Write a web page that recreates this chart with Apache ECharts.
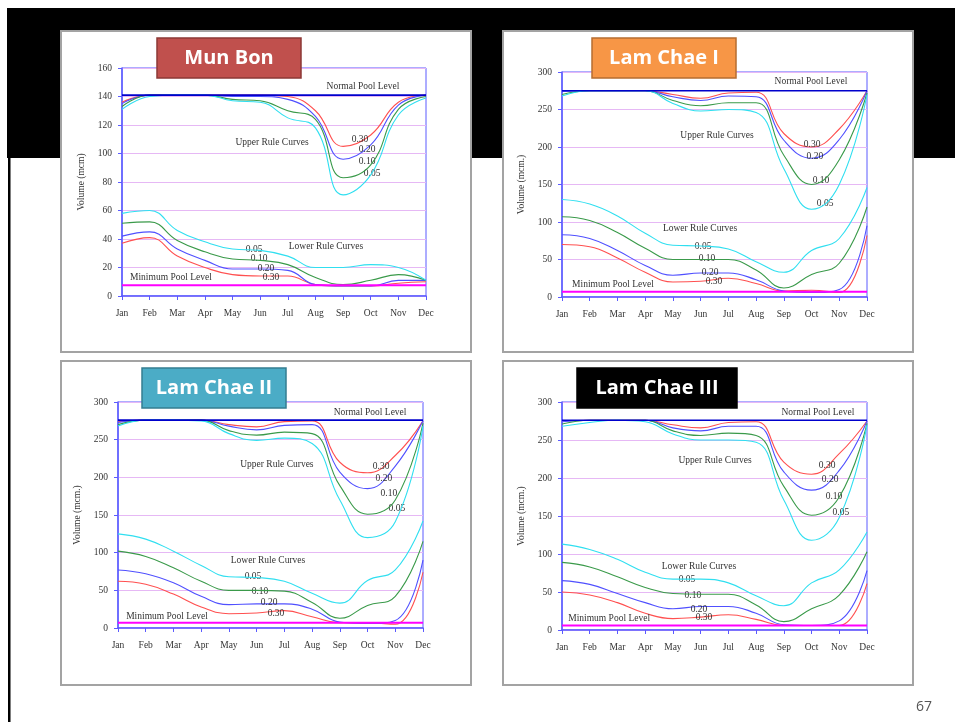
<!DOCTYPE html>
<html>
<head>
<meta charset="utf-8">
<title>Rule curves</title>
<script src="https://cdn.jsdelivr.net/npm/echarts@6/dist/echarts.min.js"></script>
<style>
  html, body { margin: 0; padding: 0; background: #fff; }
  #chart { width: 955px; height: 722px; }
</style>
</head>
<body>
<div id="chart"></div>
<script>
// Month tick labels (x = 0 .. 11)
const months = ['Jan', 'Feb', 'Mar', 'Apr', 'May', 'Jun', 'Jul', 'Aug', 'Sep', 'Oct', 'Nov', 'Dec'];
const probabilities = ['0.30', '0.20', '0.10', '0.05'];

// Mun Bon (mcm)
const munBonUpper030 = [136, 141, 141, 141, 141, 141, 140, 130, 105, 113, 136, 141];
const munBonUpper020 = [135, 141, 141, 141, 140, 140, 138, 126, 96, 106, 134, 141];
const munBonUpper010 = [133, 141, 141, 141, 138, 137, 130, 124, 83, 92, 131, 140];
const munBonUpper005 = [131, 140, 141, 141, 137, 136, 125, 118, 71, 85, 127, 139];
const munBonLower005 = [58, 60, 46, 38, 33, 32, 28, 20, 20, 22, 20, 11];
const munBonLower010 = [51, 52, 39, 31, 26, 25, 22, 13, 8, 11, 15, 11];
const munBonLower020 = [42, 45, 33, 25, 19, 19, 18, 8, 7, 7, 11, 11];
const munBonLower030 = [37, 41, 28, 20, 15, 14, 14, 8, 7, 7, 9, 10];
const munBonNormalPool = 141;
const munBonMinPool = 7.5;

// Lam Chae I (mcm)
const lamChae1Upper030 = [275, 275, 275, 275, 270, 265, 272, 273, 218, 200, 224, 275];
const lamChae1Upper020 = [274, 275, 275, 275, 267, 262, 268, 267, 209, 185, 210, 275];
const lamChae1Upper010 = [270, 275, 275, 275, 262, 255, 259, 259, 189, 150, 183, 272];
const lamChae1Upper005 = [268, 275, 275, 275, 258, 248, 250, 246, 171, 117, 150, 270];
const lamChae1Lower005 = [130, 124, 108, 85, 69, 68, 64, 47, 33, 62, 78, 146];
const lamChae1Lower010 = [107, 102, 86, 65, 50, 50, 50, 36, 12, 30, 45, 120];
const lamChae1Lower020 = [83, 78, 62, 42, 29, 32, 32, 23, 8, 6, 10, 95];
const lamChae1Lower030 = [70, 67, 52, 33, 20, 21, 25, 18, 8, 9, 6, 82];
const lamChae1NormalPool = 275;
const lamChae1MinPool = 7;

// Lam Chae II (mcm)
const lamChae2Upper030 = [274, 276, 276, 276, 270, 267, 274, 275, 220, 206, 229, 275];
const lamChae2Upper020 = [273, 276, 276, 276, 268, 263, 269, 270, 207, 185, 215, 275];
const lamChae2Upper010 = [270, 276, 276, 276, 262, 256, 260, 258, 189, 151, 170, 272];
const lamChae2Upper005 = [268, 276, 276, 275, 258, 249, 252, 245, 170, 120, 141, 268];
const lamChae2Lower005 = [125, 118, 102, 83, 68, 67, 62, 46, 33, 63, 77, 142];
const lamChae2Lower010 = [102, 95, 80, 62, 50, 50, 49, 34, 13, 30, 42, 115];
const lamChae2Lower020 = [77, 72, 60, 42, 31, 32, 32, 25, 8, 6, 10, 90];
const lamChae2Lower030 = [62, 58, 45, 28, 19, 20, 23, 15, 7, 7, 5, 74];
const lamChae2NormalPool = 276;
const lamChae2MinPool = 7;

// Lam Chae III (mcm)
const lamChae3Upper030 = [275, 276, 276, 276, 270, 266, 273, 274, 221, 205, 232, 275];
const lamChae3Upper020 = [274, 276, 276, 276, 266, 262, 268, 268, 208, 184, 210, 275];
const lamChae3Upper010 = [271, 276, 276, 276, 262, 256, 259, 256, 189, 151, 175, 272];
const lamChae3Upper005 = [268, 273, 276, 274, 258, 250, 250, 247, 171, 118, 148, 270];
const lamChae3Lower005 = [113, 106, 93, 76, 67, 67, 62, 45, 32, 62, 79, 129];
const lamChae3Lower010 = [89, 83, 70, 56, 48, 47, 47, 33, 11, 28, 46, 103];
const lamChae3Lower020 = [65, 60, 48, 36, 28, 31, 31, 22, 7, 6, 12, 78];
const lamChae3Lower030 = [50, 46, 36, 22, 15, 17, 20, 14, 6, 6, 6, 61];
const lamChae3NormalPool = 276;
const lamChae3MinPool = 6;

const curveColors = ['#ff5050', '#5050ff', '#3a9a4a', '#30dff0'];
const serif = '"Liberation Serif", "DejaVu Serif", serif';

// One entry per reservoir chart
const panels = [
  {
    title: 'Mun Bon', titleFill: '#c0504d', titleStroke: '#8c3836',
    box: [61, 31, 410, 321], titleBox: [157, 38, 144, 40],
    grid: { left: 122, top: 68, width: 304, height: 228 },
    yMax: 160, yStep: 20, yName: 'Volume (mcm)',
    upper: [munBonUpper030, munBonUpper020, munBonUpper010, munBonUpper005],
    lower: [munBonLower030, munBonLower020, munBonLower010, munBonLower005],
    normal: munBonNormalPool, min: munBonMinPool,
    notes: {
      normal: [8.72, 147], upperTitle: [5.43, 107.4], lowerTitle: [7.38, 34.4], minTitle: [1.77, 13.3],
      upper: [[8.61, 110], [8.87, 102.5], [8.87, 94.7], [9.05, 86.3]],
      lower: [[5.39, 13.3], [5.21, 19.6], [4.96, 26], [4.78, 32.3]]
    }
  },
  {
    title: 'Lam Chae I', titleFill: '#f79646', titleStroke: '#b66d31',
    box: [503, 31, 410, 321], titleBox: [592, 38, 144, 40],
    grid: { left: 562, top: 72, width: 305, height: 225 },
    yMax: 300, yStep: 50, yName: 'Volume (mcm.)',
    upper: [lamChae1Upper030, lamChae1Upper020, lamChae1Upper010, lamChae1Upper005],
    lower: [lamChae1Lower030, lamChae1Lower020, lamChae1Lower010, lamChae1Lower005],
    normal: lamChae1NormalPool, min: lamChae1MinPool,
    notes: {
      normal: [8.98, 286.7], upperTitle: [5.59, 216], lowerTitle: [4.98, 90.7], minTitle: [1.84, 17.3],
      upper: [[9.02, 202.7], [9.12, 186.7], [9.34, 154.7], [9.49, 125.3]],
      lower: [[5.48, 21.3], [5.34, 33.3], [5.23, 50.7], [5.09, 68]]
    }
  },
  {
    title: 'Lam Chae II', titleFill: '#4bacc6', titleStroke: '#357d91',
    box: [61, 361, 410, 324], titleBox: [142, 368, 144, 40],
    grid: { left: 118, top: 402, width: 305, height: 226 },
    yMax: 300, yStep: 50, yName: 'Volume (mcm.)',
    upper: [lamChae2Upper030, lamChae2Upper020, lamChae2Upper010, lamChae2Upper005],
    lower: [lamChae2Lower030, lamChae2Lower020, lamChae2Lower010, lamChae2Lower005],
    normal: lamChae2NormalPool, min: lamChae2MinPool,
    notes: {
      normal: [9.09, 286.7], upperTitle: [5.73, 216.4], lowerTitle: [5.41, 89], minTitle: [1.77, 15.9],
      upper: [[9.49, 215], [9.59, 197.8], [9.77, 177.9], [10.06, 158]],
      lower: [[5.70, 19.9], [5.45, 33.2], [5.12, 49], [4.87, 69]]
    }
  },
  {
    title: 'Lam Chae III', titleFill: '#000000', titleStroke: '#000000',
    box: [503, 361, 410, 324], titleBox: [577, 368, 160, 40],
    grid: { left: 562, top: 402, width: 305, height: 228 },
    yMax: 300, yStep: 50, yName: 'Volume (mcm.)',
    upper: [lamChae3Upper030, lamChae3Upper020, lamChae3Upper010, lamChae3Upper005],
    lower: [lamChae3Lower030, lamChae3Lower020, lamChae3Lower010, lamChae3Lower005],
    normal: lamChae3NormalPool, min: lamChae3MinPool,
    notes: {
      normal: [9.23, 286.8], upperTitle: [5.52, 222.4], lowerTitle: [4.94, 82.9], minTitle: [1.70, 14.5],
      upper: [[9.56, 215.8], [9.67, 197.4], [9.81, 176.3], [10.06, 154]],
      lower: [[5.12, 15.8], [4.94, 27.6], [4.72, 46], [4.51, 65.8]]
    }
  }
];

const grids = [], xAxes = [], yAxes = [], series = [];
const graphics = [
  // dark header band and left rule of the slide
  { type: 'rect', z: -20, shape: { x: 7, y: 8, width: 948, height: 150 }, style: { fill: '#000' } },
  { type: 'rect', z: -20, shape: { x: 8, y: 158, width: 2.5, height: 564 }, style: { fill: '#000' } },
  { type: 'text', z: 50, left: 916, top: 700, style: { text: '67', fill: '#555', font: '14px "Open Sans", sans-serif' } }
];

const blue = '#5b5bff';

panels.forEach((p, i) => {
  graphics.push({
    type: 'rect', z: -10,
    shape: { x: p.box[0], y: p.box[1], width: p.box[2], height: p.box[3] },
    style: { fill: '#fff', stroke: '#a3a3a3', lineWidth: 2 }
  });
  graphics.push({
    type: 'rect', z: 100,
    shape: { x: p.titleBox[0], y: p.titleBox[1], width: p.titleBox[2], height: p.titleBox[3] },
    style: { fill: p.titleFill, stroke: p.titleStroke, lineWidth: 1.5 }
  });
  graphics.push({
    type: 'text', z: 101,
    x: p.titleBox[0] + p.titleBox[2] / 2, y: p.titleBox[1] + p.titleBox[3] / 2,
    style: { text: p.title, fill: '#fff', font: 'bold 20px "Open Sans", sans-serif', align: 'center', verticalAlign: 'middle' }
  });

  grids.push(Object.assign({ show: true, borderColor: blue, borderWidth: 1, backgroundColor: 'transparent' }, p.grid));

  xAxes.push({
    type: 'value', gridIndex: i, min: 0, max: 11, interval: 1,
    axisLine: { show: true, onZero: false, lineStyle: { color: blue, width: 1.5 } },
    axisTick: { show: true, length: 4, lineStyle: { color: blue } },
    splitLine: { show: false },
    axisLabel: { formatter: v => months[v] || '', color: '#333', fontFamily: serif, fontSize: 9.5, margin: 12 }
  });

  yAxes.push({
    type: 'value', gridIndex: i, min: 0, max: p.yMax, interval: p.yStep,
    name: p.yName, nameLocation: 'middle', nameGap: 36, nameRotate: 90,
    nameTextStyle: { color: '#333', fontFamily: serif, fontSize: 9.5 },
    axisLine: { show: true, lineStyle: { color: blue, width: 1.5 } },
    axisTick: { show: true, length: 4, lineStyle: { color: blue } },
    splitLine: { show: true, lineStyle: { color: '#e6b8f5', width: 1 } },
    axisLabel: { color: '#333', fontFamily: serif, fontSize: 9.5, margin: 10 }
  });

  const noteLabel = { show: true, position: 'inside', color: '#333', fontFamily: serif, fontSize: 9.5 };
  const note = (xy, text) => ({ coord: xy, name: text });
  const markData = [
    note(p.notes.normal, 'Normal Pool Level'),
    note(p.notes.upperTitle, 'Upper Rule Curves'),
    note(p.notes.lowerTitle, 'Lower Rule Curves'),
    note(p.notes.minTitle, 'Minimum Pool Level')
  ];
  p.notes.upper.forEach((xy, k) => markData.push(note(xy, probabilities[k])));
  p.notes.lower.forEach((xy, k) => markData.push(note(xy, probabilities[k])));

  const toXY = arr => arr.map((v, m) => [m, v]);

  [p.upper, p.lower].forEach((group, g) => {
    group.forEach((vals, k) => {
      series.push({
        type: 'line', xAxisIndex: i, yAxisIndex: i,
        name: (g === 0 ? 'Upper ' : 'Lower ') + probabilities[k],
        data: toXY(vals), smooth: 0.45, showSymbol: false, z: 3 + k,
        lineStyle: { color: curveColors[k], width: 1.1 }, itemStyle: { color: curveColors[k] },
        silent: true, animation: false
      });
    });
  });

  series.push({
    type: 'line', xAxisIndex: i, yAxisIndex: i, name: 'Minimum Pool Level',
    data: [[0, p.min], [11, p.min]], showSymbol: false, z: 8,
    lineStyle: { color: '#ff00ff', width: 2 }, silent: true, animation: false
  });
  series.push({
    type: 'line', xAxisIndex: i, yAxisIndex: i, name: 'Normal Pool Level',
    data: [[0, p.normal], [11, p.normal]], showSymbol: false, z: 9,
    lineStyle: { color: '#0000cc', width: 1.6 }, silent: true, animation: false,
    markPoint: {
      symbol: 'rect', symbolSize: 1, silent: true, animation: false,
      itemStyle: { color: 'rgba(0,0,0,0)' },
      label: Object.assign({ formatter: '{b}' }, noteLabel),
      data: markData
    }
  });
});

const chart = echarts.init(document.getElementById('chart'), null, { renderer: 'canvas' });
chart.setOption({
  animation: false,
  backgroundColor: '#fff',
  grid: grids, xAxis: xAxes, yAxis: yAxes, series: series,
  graphic: { elements: graphics }
});
</script>
</body>
</html>
